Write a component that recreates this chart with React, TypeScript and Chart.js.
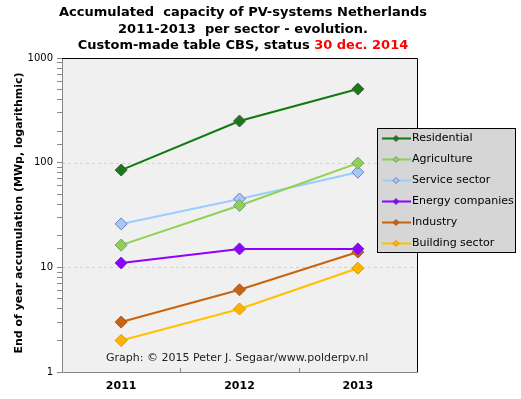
import React, { useEffect, useRef } from "react";
import { Chart, registerables } from "chart.js";

Chart.register(...registerables);

const years = ["2011", "2012", "2013"];
const residential = [85, 250, 505];
const agriculture = [16.3, 39, 99];
const serviceSector = [26, 45, 81];
const energyCompanies = [11, 15, 15];
const industry = [3, 6.1, 14];
const buildingSector = [2, 4, 9.8];
const yTickLabels = [1, 10, 100, 1000];

const seriesNames = [
  "Residential",
  "Agriculture",
  "Service sector",
  "Energy companies",
  "Industry",
  "Building sector",
];
const lineColors = ["#0f7a0f", "#92d050", "#99ccff", "#8f00ff", "#c8640f", "#ffc000"];
const pointFills = ["#1a7a1a", "#92d050", "#a6c8f5", "#8f00ff", "#c8640f", "#ffb400"];
const pointBorders = ["#4a5a4a", "#6aa080", "#7a7ac8", "#6a30c0", "#a05a30", "#e09000"];
const seriesData = [residential, agriculture, serviceSector, energyCompanies, industry, buildingSector];

const FONT = "'DejaVu Sans', Verdana, sans-serif";

const decorPlugin = {
  id: "decor",
  beforeDraw(chart: any) {
    const { ctx, chartArea: a } = chart;
    ctx.save();
    ctx.fillStyle = "#ffffff";
    ctx.fillRect(0, 0, chart.width, chart.height);
    ctx.fillStyle = "#f0f0f0";
    ctx.fillRect(a.left, a.top, a.right - a.left, a.bottom - a.top);
    const ys = chart.scales.y;
    ctx.strokeStyle = "#cfcfcf";
    ctx.lineWidth = 1;
    ctx.setLineDash([3, 3]);
    [10, 100].forEach((v) => {
      const y = Math.round(ys.getPixelForValue(v)) + 0.5;
      ctx.beginPath();
      ctx.moveTo(a.left, y);
      ctx.lineTo(a.right, y);
      ctx.stroke();
    });
    ctx.setLineDash([]);
    ctx.restore();
  },
  afterDraw(chart: any) {
    const { ctx, chartArea: a } = chart;
    ctx.save();
    ctx.strokeStyle = "#000000";
    ctx.lineWidth = 1;
    ctx.beginPath();
    ctx.moveTo(a.left, a.top + 0.5);
    ctx.lineTo(a.right + 0.5, a.top + 0.5);
    ctx.lineTo(a.right + 0.5, a.bottom);
    ctx.stroke();
    const xs = chart.scales.x;
    ctx.strokeStyle = "#888888";
    for (let i = 1; i < years.length; i++) {
      const x = Math.round((xs.getPixelForValue(i - 1) + xs.getPixelForValue(i)) / 2) + 0.5;
      ctx.beginPath();
      ctx.moveTo(x, a.bottom);
      ctx.lineTo(x, a.bottom - 4);
      ctx.stroke();
    }
    ctx.fillStyle = "#000000";
    ctx.font = `bold 13px ${FONT}`;
    ctx.textBaseline = "middle";
    ctx.textAlign = "center";
    const cx = 243;
    ctx.fillText("Accumulated  capacity of PV-systems Netherlands", cx, 13);
    ctx.fillText("2011-2013  per sector - evolution.", cx, 30);
    const p1 = "Custom-made table CBS, status ";
    const p2 = "30 dec. 2014";
    const w1 = ctx.measureText(p1).width;
    const w2 = ctx.measureText(p2).width;
    const sx = cx - (w1 + w2) / 2;
    ctx.textAlign = "left";
    ctx.fillText(p1, sx, 46);
    ctx.fillStyle = "#ff0000";
    ctx.fillText(p2, sx + w1, 46);
    ctx.save();
    ctx.fillStyle = "#000000";
    ctx.font = `bold 11px ${FONT}`;
    ctx.textAlign = "center";
    ctx.translate(19, (a.top + a.bottom) / 2 - 2);
    ctx.rotate(-Math.PI / 2);
    ctx.fillText("End of year accumulation (MWp, logarithmic)", 0, 0);
    ctx.restore();
    ctx.fillStyle = "#222222";
    ctx.font = `11px ${FONT}`;
    ctx.textAlign = "left";
    ctx.fillText("Graph: \u00a9 2015 Peter J. Segaar/www.polderpv.nl", 106, 358);
    const lx = 377, ly = 128, lw = 139, lh = 125;
    ctx.fillStyle = "#d6d6d6";
    ctx.fillRect(lx, ly, lw, lh);
    ctx.strokeStyle = "#000000";
    ctx.strokeRect(lx + 0.5, ly + 0.5, lw - 1, lh - 1);
    ctx.font = `11px ${FONT}`;
    seriesNames.forEach((name, i) => {
      const y = 138.5 + i * 21;
      ctx.strokeStyle = lineColors[i];
      ctx.lineWidth = 2;
      ctx.beginPath();
      ctx.moveTo(382, y);
      ctx.lineTo(411, y);
      ctx.stroke();
      ctx.fillStyle = pointFills[i];
      ctx.strokeStyle = pointBorders[i];
      ctx.lineWidth = 1;
      ctx.beginPath();
      ctx.moveTo(396, y - 3);
      ctx.lineTo(399, y);
      ctx.lineTo(396, y + 3);
      ctx.lineTo(393, y);
      ctx.closePath();
      ctx.fill();
      ctx.stroke();
      ctx.fillStyle = "#000000";
      ctx.fillText(name, 412, y);
    });
    ctx.restore();
  },
};

export default function App() {
  const ref = useRef<HTMLCanvasElement | null>(null);
  useEffect(() => {
    document.body.style.margin = "0";
    const chart = new Chart(ref.current as HTMLCanvasElement, {
      type: "line",
      data: {
        labels: years,
        datasets: seriesNames.map((name, i) => ({
          label: name,
          data: seriesData[i],
          borderColor: lineColors[i],
          backgroundColor: pointFills[i],
          pointBackgroundColor: pointFills[i],
          pointBorderColor: pointBorders[i],
          pointBorderWidth: 1,
          pointStyle: "rectRot",
          pointRadius: 6,
          borderWidth: 2,
          tension: 0,
          fill: false,
        })),
      },
      options: {
        animation: false,
        responsive: false,
        devicePixelRatio: 1,
        layout: { padding: { top: 58, right: 104, left: 0, bottom: 0 } },
        plugins: {
          legend: { display: false },
          title: { display: false },
          tooltip: { enabled: false },
        },
        scales: {
          x: {
            type: "category",
            offset: true,
            grid: { display: false },
            border: { display: true, color: "#888888" },
            ticks: {
              color: "#000000",
              font: { family: FONT, size: 11, weight: "bold" },
              padding: 0,
            },
            afterFit(scale: any) {
              scale.height = 27;
            },
          },
          y: {
            type: "logarithmic",
            min: 1,
            max: 1000,
            grid: {
              drawOnChartArea: false,
              drawTicks: true,
              tickLength: 5,
              tickColor: "#888888",
            },
            border: { display: true, color: "#888888" },
            ticks: {
              color: "#000000",
              font: { family: FONT, size: 10 },
              padding: 4,
              autoSkip: false,
              callback: (v: any) => (yTickLabels.includes(Number(v)) ? String(v) : ""),
            },
            afterFit(scale: any) {
              scale.width = 62;
            },
          },
        },
      },
      plugins: [decorPlugin],
    });
    return () => chart.destroy();
  }, []);
  return <canvas ref={ref} width={521} height={399} style={{ display: "block" }} />;
}
